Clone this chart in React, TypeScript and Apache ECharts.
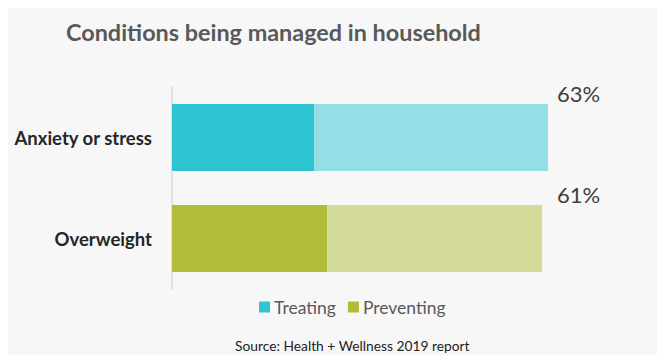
import React, { useEffect, useRef } from "react";
import * as echarts from "echarts";

const categories = ["Anxiety or stress", "Overweight"];
const treating = [23.8, 26.0];
const preventing = [39.2, 36.0];
const totalLabels = ["63%", "61%"];
const treatingColors = ["#2EC5D3", "#B1BD37"];
const preventingColors = ["#94DFE5", "#D4DA99"];
const labelDistances = [9, 15];

export default function App() {
  const ref = useRef<HTMLDivElement>(null);
  useEffect(() => {
    const chart = echarts.init(ref.current!, null, { renderer: "svg" });
    const font = "Lato, 'Open Sans', sans-serif";
    chart.setOption({
      animation: false,
      backgroundColor: "#F7F7F7",
      title: [
        {
          text: "Conditions being managed in household",
          left: 61,
          top: 15,
          textStyle: { fontFamily: font, fontSize: 23.4, fontWeight: "bold", color: "#595959" },
        },
        {
          text: "Source: Health + Wellness 2019 report",
          left: 230,
          top: 333,
          textStyle: { fontFamily: font, fontSize: 13.8, fontWeight: "normal", color: "#222" },
        },
      ],
      legend: {
        left: 254,
        top: 293,
        itemWidth: 11,
        itemHeight: 11,
        itemGap: 12,
        icon: "rect",
        textStyle: { fontFamily: font, fontSize: 17.5, color: "#595959", padding: [0, 0, 0, -1] },
        data: ["Treating", "Preventing"],
      },
      grid: { left: 172, top: 87, bottom: 74, width: 417.8, containLabel: false },
      xAxis: {
        type: "value",
        min: 0,
        max: 70,
        show: false,
      },
      yAxis: {
        type: "category",
        inverse: true,
        data: categories,
        axisTick: { show: false },
        axisLine: { show: true, lineStyle: { color: "#D9D9D9", width: 1.5 } },
        axisLabel: { fontFamily: font, fontSize: 18.5, fontWeight: "bold", color: "#262626", margin: 20 },
      },
      series: [
        {
          name: "Treating",
          type: "bar",
          stack: "t",
          barWidth: 67,
          itemStyle: { color: treatingColors[0] },
          data: treating.map((v, i) => ({ value: v, itemStyle: { color: treatingColors[i] } })),
        },
        {
          name: "Preventing",
          type: "bar",
          stack: "t",
          barWidth: 67,
          itemStyle: { color: treatingColors[1] },
          label: {
            show: true,
            position: "right",
            formatter: (p: any) => totalLabels[p.dataIndex],
            fontFamily: font,
            fontSize: 22,
            color: "#404040",
            offset: [0, -44],
          },
          data: preventing.map((v, i) => ({
            value: v,
            itemStyle: { color: preventingColors[i] },
            label: { distance: labelDistances[i] },
          })),
        },
      ],
    });
    return () => chart.dispose();
  }, []);
  return <div ref={ref} style={{ width: 665, height: 363, margin: -8 }} />;
}
